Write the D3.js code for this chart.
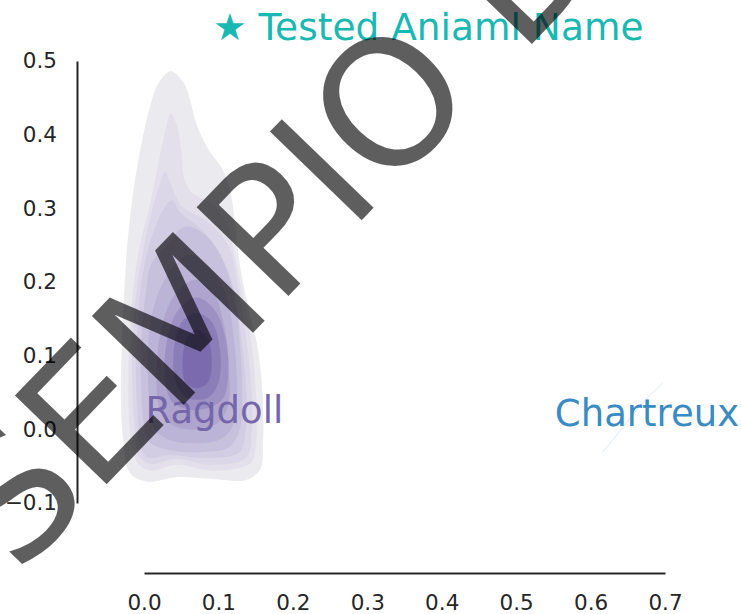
<!DOCTYPE html>
<html>
<head>
<meta charset="utf-8">
<script src="https://cdn.jsdelivr.net/npm/d3@7"></script>
<style>
  html, body { margin: 0; padding: 0; background: #ffffff; }
  svg { display: block; font-family: "DejaVu Sans", sans-serif; }
</style>
</head>
<body>
<div id="chart"></div>
<script>
// ---------------- data ----------------
const chartTitle = "★ Tested Aniaml Name";
const xTicks = [0.0, 0.1, 0.2, 0.3, 0.4, 0.5, 0.6, 0.7];
const yTicks = [-0.1, 0.0, 0.1, 0.2, 0.3, 0.4, 0.5];

const breeds = ["Ragdoll", "Chartreux"];
const breedLabelX = [0.002, 0.552];
const breedLabelY = [0.008, 0.004];
const breedColors = ["#7566aa", "#3a8bc2"];

// Ragdoll KDE filled contour outlines (data units), outermost -> innermost
const ragdollLevel1 = [[0.036,0.486],[0.054,0.469],[0.063,0.443],[0.072,0.410],[0.089,0.376],[0.106,0.352],[0.117,0.318],[0.123,0.271],[0.130,0.216],[0.141,0.162],[0.152,0.115],[0.159,0.053],[0.160,-0.014],[0.156,-0.055],[0.136,-0.069],[0.089,-0.067],[0.044,-0.065],[0.004,-0.071],[-0.019,-0.059],[-0.028,-0.014],[-0.031,0.040],[-0.030,0.108],[-0.027,0.176],[-0.023,0.244],[-0.017,0.302],[-0.011,0.346],[-0.003,0.389],[0.007,0.434],[0.019,0.469]];
const ragdollLevel2 = [[0.036,0.429],[0.044,0.413],[0.050,0.379],[0.054,0.341],[0.064,0.322],[0.089,0.307],[0.110,0.282],[0.123,0.230],[0.134,0.176],[0.144,0.121],[0.150,0.053],[0.152,-0.001],[0.145,-0.044],[0.129,-0.052],[0.089,-0.056],[0.044,-0.048],[0.008,-0.056],[-0.009,-0.045],[-0.019,-0.001],[-0.021,0.067],[-0.019,0.135],[-0.013,0.203],[-0.004,0.257],[0.008,0.305],[0.017,0.350],[0.026,0.393]];
const ragdollLevel3 = [[0.028,0.350],[0.035,0.336],[0.042,0.318],[0.051,0.302],[0.082,0.284],[0.113,0.250],[0.126,0.196],[0.136,0.135],[0.144,0.060],[0.145,-0.001],[0.137,-0.039],[0.089,-0.048],[0.044,-0.040],[0.008,-0.047],[-0.007,-0.036],[-0.013,0.006],[-0.016,0.067],[-0.015,0.135],[-0.009,0.196],[0.000,0.250],[0.011,0.298],[0.021,0.332]];
const ragdollLevel4 = [[0.038,0.311],[0.048,0.295],[0.075,0.273],[0.099,0.244],[0.121,0.189],[0.130,0.128],[0.137,0.060],[0.137,0.002],[0.128,-0.031],[0.082,-0.039],[0.035,-0.035],[0.005,-0.038],[-0.005,-0.022],[-0.009,0.026],[-0.011,0.081],[-0.008,0.148],[-0.003,0.203],[0.007,0.250],[0.019,0.284],[0.030,0.305]];
const ragdollLevel5 = [[0.055,0.275],[0.082,0.264],[0.107,0.227],[0.122,0.176],[0.129,0.114],[0.132,0.053],[0.129,0.002],[0.115,-0.024],[0.075,-0.031],[0.028,-0.027],[0.007,-0.017],[-0.001,0.013],[-0.004,0.067],[-0.003,0.135],[0.003,0.189],[0.009,0.223],[0.030,0.250]];
const ragdollLevel6 = [[0.062,0.237],[0.089,0.220],[0.111,0.179],[0.121,0.121],[0.125,0.053],[0.121,0.009],[0.105,-0.012],[0.071,-0.019],[0.031,-0.013],[0.013,0.002],[0.007,0.040],[0.005,0.094],[0.009,0.148],[0.021,0.189],[0.040,0.222]];
const ragdollLevel7 = [[0.068,0.203],[0.093,0.185],[0.109,0.135],[0.114,0.081],[0.113,0.033],[0.099,0.009],[0.070,0.000],[0.038,0.006],[0.021,0.029],[0.017,0.081],[0.023,0.135],[0.039,0.179]];
const ragdollLevel8 = [[0.071,0.179],[0.095,0.162],[0.110,0.121],[0.113,0.074],[0.105,0.040],[0.071,0.026],[0.038,0.037],[0.028,0.074],[0.031,0.121],[0.046,0.162]];
const ragdollLevel9 = [[0.071,0.158],[0.091,0.146],[0.102,0.108],[0.101,0.067],[0.089,0.045],[0.071,0.040],[0.054,0.045],[0.042,0.067],[0.040,0.108],[0.051,0.146]];
const ragdollLevel10 = [[0.071,0.135],[0.085,0.125],[0.091,0.094],[0.086,0.064],[0.071,0.056],[0.056,0.064],[0.052,0.094],[0.058,0.125]];
const ragdollLevels = [ragdollLevel1, ragdollLevel2, ragdollLevel3, ragdollLevel4, ragdollLevel5,
                       ragdollLevel6, ragdollLevel7, ragdollLevel8, ragdollLevel9, ragdollLevel10];
const ragdollLevelColors = ["#ebeaef", "#e3e0eb", "#dbd7e8", "#d2cde3", "#c8c1dd",
                            "#bcb4d6", "#aea4cd", "#9d91c3", "#8b7eb8", "#7b6aad"];

// Chartreux KDE (degenerate, nearly a line)
const chartreuxTrace = [[0.616,-0.031],[0.640,-0.002],[0.665,0.030],[0.697,0.063]];

const watermarkText = "SEMPIO D";

// ---------------- layout ----------------
const W = 741, H = 614;
const svg = d3.select("#chart").append("svg")
  .attr("width", W).attr("height", H)
  .attr("viewBox", `0 0 ${W} ${H}`);
svg.append("rect").attr("width", W).attr("height", H).attr("fill", "#ffffff");

const x = d3.scaleLinear().domain([0.0, 0.7]).range([144, 665]);
const y = d3.scaleLinear().domain([-0.1, 0.5]).range([503, 61]);

// contours
const outline = d3.line()
  .x(d => x(d[0])).y(d => y(d[1]))
  .curve(d3.curveCatmullRomClosed.alpha(0.5));

svg.append("g").selectAll("path")
  .data(ragdollLevels)
  .join("path")
  .attr("d", d => outline(d))
  .attr("fill", (d, i) => ragdollLevelColors[i])
  .attr("stroke", "none");

svg.append("path")
  .datum(chartreuxTrace)
  .attr("d", d3.line().x(d => x(d[0])).y(d => y(d[1])).curve(d3.curveCatmullRom))
  .attr("fill", "none")
  .attr("stroke", "#dde9f4")
  .attr("stroke-width", 1);

// axes
const yAxis = d3.axisLeft(y).tickValues(yTicks).tickSize(0).tickSizeOuter(0)
  .tickPadding(20).tickFormat(d3.format(".1f"));
const gy = svg.append("g").attr("transform", "translate(77,0)").call(yAxis);
const xAxis = d3.axisBottom(x).tickValues(xTicks).tickSize(0).tickSizeOuter(0)
  .tickPadding(22).tickFormat(d3.format(".1f"));
const gx = svg.append("g").attr("transform", "translate(0,573)").call(xAxis);

[gx, gy].forEach(g => {
  g.select(".domain").attr("stroke", "#262626").attr("stroke-width", 2);
  g.selectAll("text").attr("fill", "#262626").attr("font-size", 21.5)
    .attr("font-family", "DejaVu Sans, sans-serif");
});

// breed labels
svg.append("g").selectAll("text")
  .data(breeds)
  .join("text")
  .attr("x", (d, i) => x(breedLabelX[i]))
  .attr("y", (d, i) => y(breedLabelY[i]))
  .attr("fill", (d, i) => breedColors[i])
  .attr("font-size", 37)
  .text(d => d);

// title
svg.append("text")
  .attr("x", 213).attr("y", 40)
  .attr("fill", "#19b8b2")
  .attr("font-size", 37.5)
  .text(chartTitle);

// watermark
svg.append("text")
  .attr("transform", "translate(17.7,576.4) rotate(-46)")
  .attr("fill", "#000000")
  .attr("fill-opacity", 0.63)
  .attr("font-size", 175)
  .text(watermarkText);
</script>
</body>
</html>
